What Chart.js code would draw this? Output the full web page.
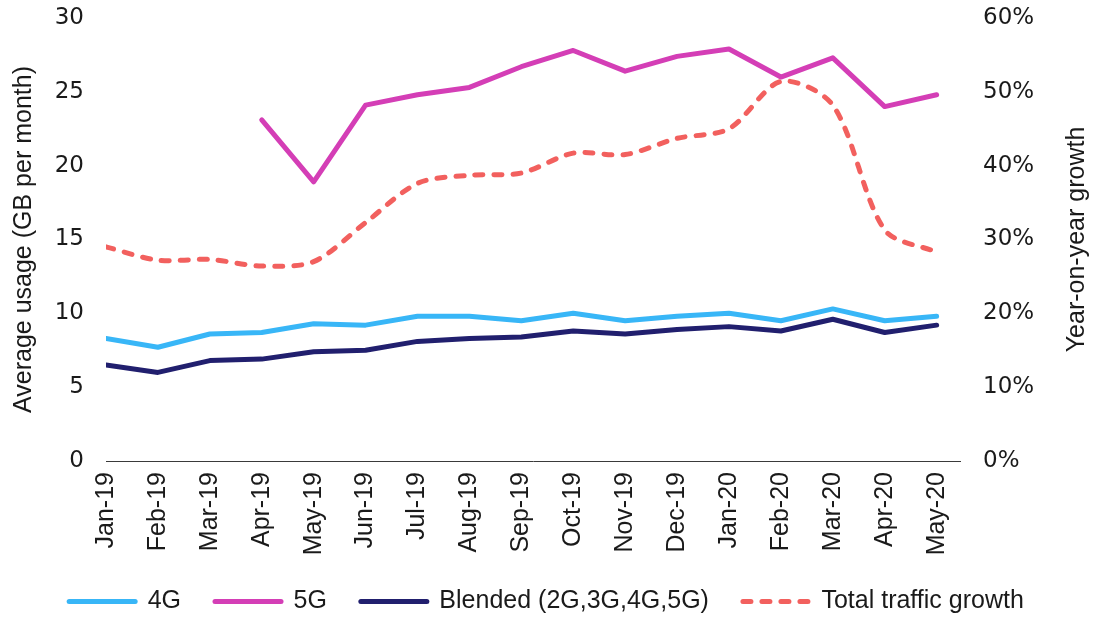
<!DOCTYPE html>
<html>
<head>
<meta charset="utf-8">
<style>
  html, body { margin: 0; padding: 0; background: #ffffff; overflow: hidden; width: 1093px; height: 618px; }
  #wrap { position: relative; width: 1093px; height: 624px; }
  canvas { display: block; }
</style>
<script src="https://cdn.jsdelivr.net/npm/chart.js@4.4.1/dist/chart.umd.min.js"></script>
</head>
<body>
<div id="wrap"><canvas id="chart" width="1093" height="624"></canvas></div>
<script>
// Monthly categories
const months = ['Jan-19','Feb-19','Mar-19','Apr-19','May-19','Jun-19','Jul-19','Aug-19','Sep-19',
                'Oct-19','Nov-19','Dec-19','Jan-20','Feb-20','Mar-20','Apr-20','May-20'];

// Average usage, GB per month (left axis)
const usage4G      = [8.3, 7.7, 8.6, 8.7, 9.3, 9.2, 9.8, 9.8, 9.5, 10.0, 9.5, 9.8, 10.0, 9.5, 10.3, 9.5, 9.8];
const usage5G      = [null, null, null, 23.1, 18.9, 24.1, 24.8, 25.3, 26.7, 27.8, 26.4, 27.4, 27.9, 26.0, 27.3, 24.0, 24.8];
const usageBlended = [6.5, 6.0, 6.8, 6.9, 7.4, 7.5, 8.1, 8.3, 8.4, 8.8, 8.6, 8.9, 9.1, 8.8, 9.6, 8.7, 9.2];

// Total traffic, year-on-year growth in % (right axis)
const trafficGrowth = [29.0, 27.2, 27.3, 26.4, 27.0, 32.3, 37.6, 38.7, 39.0, 41.7, 41.5, 43.7, 45.0, 51.4, 48.2, 31.3, 28.3];

// Axis ticks
const leftTicks  = [0, 5, 10, 15, 20, 25, 30];
const rightTicks = [0, 10, 20, 30, 40, 50, 60];

const leftTitle  = 'Average usage (GB per month)';
const rightTitle = 'Year-on-year growth';

const textColor = '#1a1a1a';
const tickFontY = { family: '"DejaVu Sans", sans-serif', size: 23 };
const labelFont = { family: '"Liberation Sans", Arial, sans-serif', size: 25 };
const lineWidth = 5;

const toPoints = arr => arr.map((v, i) => ({ x: i, y: v }));

// Keep tick-label overflow from pushing the plot area around
const noOverflow = s => { s.paddingTop = 0; s.paddingBottom = 0; s.paddingLeft = 0; s.paddingRight = 0; };

// Right-hand axis title, reading bottom to top
const rightTitlePlugin = {
  id: 'rightTitle',
  afterDraw(chart) {
    const { ctx, chartArea } = chart;
    ctx.save();
    ctx.translate(1077, (chartArea.top + chartArea.bottom) / 2);
    ctx.rotate(-Math.PI / 2);
    ctx.font = `${labelFont.size}px ${labelFont.family}`;
    ctx.fillStyle = textColor;
    ctx.textAlign = 'center';
    ctx.textBaseline = 'middle';
    ctx.fillText(rightTitle, 0, 0);
    ctx.restore();
  }
};

new Chart(document.getElementById('chart'), {
  type: 'line',
  data: {
    datasets: [
      { label: '4G', data: toPoints(usage4G), yAxisID: 'y',
        borderColor: '#38B6F7', backgroundColor: '#38B6F7' },
      { label: '5G', data: toPoints(usage5G), yAxisID: 'y',
        borderColor: '#D43EB6', backgroundColor: '#D43EB6' },
      { label: 'Blended (2G,3G,4G,5G)', data: toPoints(usageBlended), yAxisID: 'y',
        borderColor: '#211F6E', backgroundColor: '#211F6E' },
      { label: 'Total traffic growth', data: toPoints(trafficGrowth), yAxisID: 'y2',
        borderColor: '#F2605E', backgroundColor: '#F2605E',
        borderDash: [8, 11], tension: 0.3 }
    ]
  },
  options: {
    responsive: false,
    animation: false,
    devicePixelRatio: 1,
    layout: { padding: { top: 18, left: 0, right: 0, bottom: 0 } },
    elements: {
      point: { radius: 0, hoverRadius: 0 },
      line: { borderWidth: lineWidth, borderCapStyle: 'round', borderJoinStyle: 'round', tension: 0 }
    },
    plugins: {
      tooltip: { enabled: false },
      legend: {
        position: 'bottom',
        labels: {
          usePointStyle: true,
          pointStyle: 'line',
          pointStyleWidth: 66,
          padding: 34,
          color: textColor,
          font: labelFont,
          generateLabels: chart => chart.data.datasets.map((ds, i) => ({
            text: ds.label,
            datasetIndex: i,
            fillStyle: ds.borderColor,
            strokeStyle: ds.borderColor,
            fontColor: textColor,
            lineWidth: lineWidth,
            lineCap: 'round',
            lineDash: ds.borderDash || [],
            pointStyle: 'line',
            hidden: false
          }))
        }
      }
    },
    scales: {
      x: {
        type: 'linear',
        min: 0,
        max: 16.45,
        afterBuildTicks: s => { s.ticks = months.map((_, i) => ({ value: i })); },
        afterFit: s => { s.height = 94; noOverflow(s); },
        grid: { display: false, drawTicks: false },
        border: { display: true, color: '#3a3a3a', width: 1 },
        ticks: {
          autoSkip: false,
          maxRotation: 90,
          minRotation: 90,
          padding: 11,
          color: textColor,
          font: labelFont,
          callback: v => months[v]
        }
      },
      y: {
        position: 'left',
        min: 0,
        max: 30,
        afterBuildTicks: s => { s.ticks = leftTicks.map(v => ({ value: v })); },
        afterFit: s => { s.width = 106; noOverflow(s); },
        grid: { display: false, drawTicks: false },
        border: { display: false },
        ticks: { padding: 22, color: textColor, font: tickFontY },
        title: {
          display: true,
          text: leftTitle,
          color: textColor,
          font: labelFont,
          padding: { top: 9, bottom: 0 }
        }
      },
      y2: {
        position: 'right',
        min: 0,
        max: 60,
        afterBuildTicks: s => { s.ticks = rightTicks.map(v => ({ value: v })); },
        afterFit: s => { s.width = 133; noOverflow(s); },
        grid: { display: false, drawTicks: false },
        border: { display: false },
        ticks: { padding: 23, color: textColor, font: tickFontY, callback: v => v + '%' }
      }
    }
  },
  plugins: [rightTitlePlugin]
});
</script>
</body>
</html>
